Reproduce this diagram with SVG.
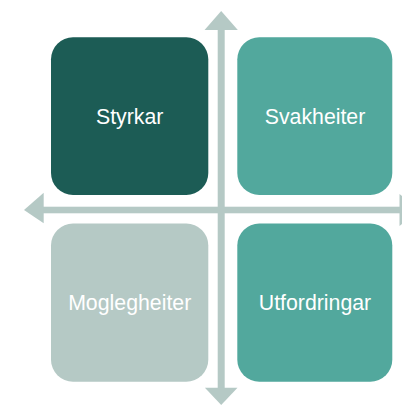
<svg xmlns="http://www.w3.org/2000/svg" width="402" height="405" viewBox="0 0 402 405">
<style>
.ax{fill:#B5C9C5}
.box{stroke:none}
.lbl{font-family:"Liberation Sans",Arial,sans-serif;font-size:21.3px;fill:#FFFFFF;text-anchor:middle}
</style>
<rect width="402" height="405" fill="#FFFFFF"/>
<g id="connectors">
<rect class="ax" x="43" y="206.7" width="358" height="6.6"/>
<polygon class="ax" points="24,210 43.7,192.7 43.7,223.3"/>
<polygon class="ax" points="420,210 399.5,194 399.5,226"/>
<rect class="ax" x="217.7" y="29" width="7" height="360"/>
<polygon class="ax" points="221.2,11 237.8,30 204.6,30"/>
<polygon class="ax" points="221.2,405 237.5,387.7 204.9,387.7"/>
</g>
<g id="styrkar">
<rect class="box" x="51" y="37.3" width="157.3" height="157.7" rx="22" fill="#1C5C55"/>
<text class="lbl" x="129.7" y="123.5">Styrkar</text>
</g>
<g id="svakheiter">
<rect class="box" x="237.3" y="37.3" width="155" height="157.7" rx="22" fill="#52A89D"/>
<text class="lbl" x="315" y="123.5">Svakheiter</text>
</g>
<g id="moglegheiter">
<rect class="box" x="51" y="223.5" width="157.3" height="158.2" rx="22" fill="#B5C9C5"/>
<text class="lbl" x="129.7" y="309.5">Moglegheiter</text>
</g>
<g id="utfordringar">
<rect class="box" x="237.3" y="223.5" width="155" height="158.2" rx="22" fill="#52A89D"/>
<text class="lbl" x="315" y="309.5">Utfordringar</text>
</g>
</svg>
